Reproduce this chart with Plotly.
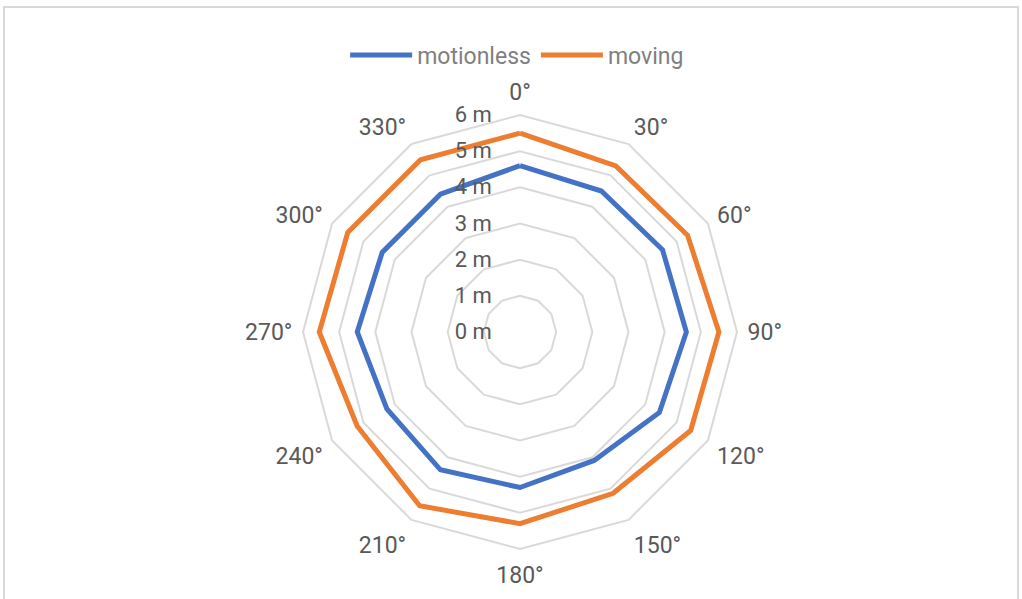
import plotly.graph_objects as go

# Direction of each measurement, degrees clockwise from north
directions = ["0°", "30°", "60°", "90°", "120°", "150°", "180°",
              "210°", "240°", "270°", "300°", "330°"]

# Detection range in metres for each direction
motionless = [4.6, 4.5, 4.55, 4.6, 4.45, 4.1, 4.3, 4.4, 4.25, 4.5, 4.4, 4.4]
moving = [5.5, 5.3, 5.35, 5.5, 5.45, 5.15, 5.3, 5.55, 5.2, 5.55, 5.5, 5.5]

radial_ticks = [0, 1, 2, 3, 4, 5, 6]
radial_labels = ["0 m", "1 m", "2 m", "3 m", "4 m", "5 m", "6 m"]

W, H = 1022, 599
TEXT = "#595959"
GRID = "#d9d9d9"


def closed(seq):
    return list(seq) + [seq[0]]


fig = go.Figure()
fig.add_trace(go.Scatterpolar(
    r=closed(motionless), theta=closed(directions), name="motionless",
    mode="lines", line=dict(color="#4472c4", width=5),
))
fig.add_trace(go.Scatterpolar(
    r=closed(moving), theta=closed(directions), name="moving",
    mode="lines", line=dict(color="#ed7d31", width=5),
))

cx, cy, rad = 520, 332, 217
fig.update_layout(
    width=W, height=H,
    margin=dict(l=0, r=0, t=0, b=0),
    paper_bgcolor="white",
    font=dict(family="Roboto", size=22, color=TEXT),
    showlegend=True,
    legend=dict(orientation="h", x=0.506, xanchor="center", y=1 - 55 / H,
                yanchor="middle", font=dict(size=23, color="#7f7f7f"),
                itemwidth=62, tracegroupgap=0),
    polar=dict(
        domain=dict(x=[(cx - rad) / W, (cx + rad) / W],
                    y=[1 - (cy + rad) / H, 1 - (cy - rad) / H]),
        gridshape="linear",
        bgcolor="white",
        angularaxis=dict(
            direction="clockwise", rotation=90,
            showgrid=False, showline=True, linecolor=GRID, linewidth=2,
            ticks="outside", ticklen=5, tickcolor="rgba(0,0,0,0)",
            tickfont=dict(size=23, color=TEXT),
        ),
        radialaxis=dict(
            range=[0, 6], angle=90, tickangle=90,
            tickvals=radial_ticks, ticktext=radial_labels,
            showline=False, showgrid=True, gridcolor=GRID, gridwidth=2,
            ticks="outside", ticklen=20, tickcolor="rgba(0,0,0,0)",
            side="counterclockwise",
            tickfont=dict(size=22, color=TEXT),
        ),
    ),
    shapes=[dict(type="rect", xref="paper", yref="paper",
                 x0=4 / W, x1=1018 / W, y0=-0.05, y1=1 - 7 / H,
                 line=dict(color=GRID, width=2), fillcolor="rgba(0,0,0,0)")],
)

fig.write_html("out.html")
